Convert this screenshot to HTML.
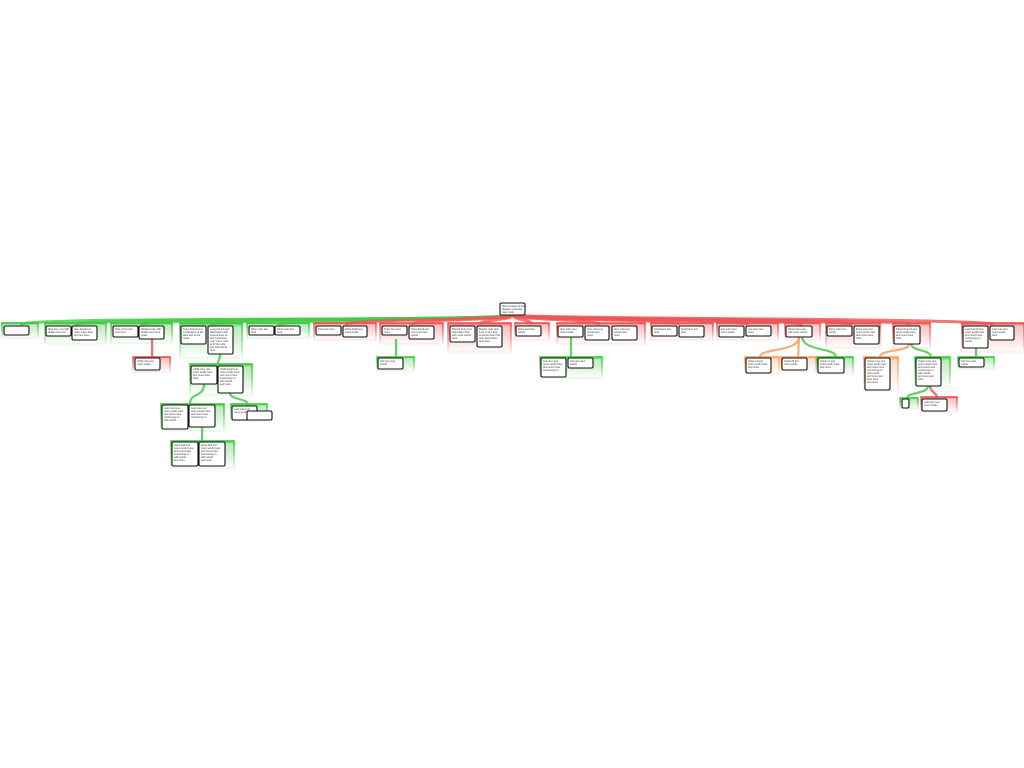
<!DOCTYPE html>
<html><head><meta charset="utf-8"><style>
html,body{margin:0;padding:0;background:#fff;width:1024px;height:768px;overflow:hidden}
svg{display:block}
text{font-family:"Liberation Sans",sans-serif;font-size:2.6px;fill:#333}
.n{fill:#fff;stroke:#111;stroke-width:1.1}
.gG{fill:url(#fG);stroke:url(#sG);stroke-width:1.6}
.gR{fill:url(#fR);stroke:url(#sR);stroke-width:1.6}
.gO{fill:url(#fO);stroke:url(#sO);stroke-width:1.6}
</style></head><body>
<svg width="1024" height="768" viewBox="0 0 1024 768" xmlns="http://www.w3.org/2000/svg">
<defs>
<linearGradient id="fG" x1="0" y1="0" x2="0" y2="1"><stop offset="0" stop-color="#3cc83c" stop-opacity=".9"/><stop offset=".12" stop-color="#3cc83c" stop-opacity=".35"/><stop offset="1" stop-color="#3cc83c" stop-opacity="0"/></linearGradient>
<linearGradient id="fR" x1="0" y1="0" x2="0" y2="1"><stop offset="0" stop-color="#ee5050" stop-opacity=".9"/><stop offset=".12" stop-color="#ee5050" stop-opacity=".35"/><stop offset="1" stop-color="#ee5050" stop-opacity="0"/></linearGradient>
<linearGradient id="fO" x1="0" y1="0" x2="0" y2="1"><stop offset="0" stop-color="#f6a060" stop-opacity=".9"/><stop offset=".12" stop-color="#f6a060" stop-opacity=".35"/><stop offset="1" stop-color="#f6a060" stop-opacity="0"/></linearGradient>
<linearGradient id="sG" x1="0" y1="0" x2="0" y2="1"><stop offset="0" stop-color="#3cc83c"/><stop offset="1" stop-color="#3cc83c" stop-opacity=".1"/></linearGradient>
<linearGradient id="sR" x1="0" y1="0" x2="0" y2="1"><stop offset="0" stop-color="#ee5050"/><stop offset="1" stop-color="#ee5050" stop-opacity=".1"/></linearGradient>
<linearGradient id="sO" x1="0" y1="0" x2="0" y2="1"><stop offset="0" stop-color="#f6a060"/><stop offset="1" stop-color="#f6a060" stop-opacity=".1"/></linearGradient>
</defs>

<g fill="none" stroke-width="3" stroke-opacity=".8">
<g stroke="#44cc44">
<path d="M512,315 C505,322 60,316 20,324"/>
<path d="M512,315 C505,321 110,317 75,324"/>
<path d="M512,315 C505,321 170,318 141,324"/>
<path d="M512,315 C505,320 240,318 211,324"/>
<path d="M512,315 C505,320 300,319 278,324"/>
</g>
<g stroke="#ee5555">
<path d="M512,315 C510,320 360,319 345,324"/>
<path d="M512,315 C512,320 420,319 411,324"/>
<path d="M512,315 C514,320 485,319 479,324"/>
<path d="M512,315 C514,320 530,319 532,324"/>
<path d="M512,315 C518,320 590,319 600,324"/>
<path d="M512,315 C520,320 665,319 680,324"/>
<path d="M512,315 C520,320 730,319 748,324"/>
<path d="M512,315 C520,320 785,319 802,324"/>
<path d="M512,315 C520,320 840,319 853,324"/>
<path d="M512,315 C520,320 900,319 911,324"/>
<path d="M512,315 C520,319 960,318 993,324"/>
</g>
</g>

<g>
<rect class="gG" x="2" y="323" width="36" height="15"/>
<rect class="gG" x="45" y="323" width="61" height="21"/>
<rect class="gG" x="111" y="323" width="61" height="20"/>
<rect class="gG" x="180" y="323" width="62" height="35"/>
<rect class="gG" x="247" y="323" width="62" height="15"/>
<rect class="gR" x="314" y="323" width="62" height="17"/>
<rect class="gR" x="380" y="323" width="63" height="21"/>
<rect class="gR" x="448" y="323" width="63" height="29"/>
<rect class="gR" x="515" y="323" width="34" height="17"/>
<rect class="gR" x="557" y="323" width="88" height="21"/>
<rect class="gR" x="651" y="323" width="62" height="17"/>
<rect class="gR" x="717" y="323" width="61" height="17"/>
<rect class="gR" x="785" y="323" width="35" height="17"/>
<rect class="gR" x="826" y="323" width="54" height="25"/>
<rect class="gR" x="893" y="323" width="37" height="25"/>
<rect class="gR" x="962" y="323" width="62" height="29"/>
<rect class="gR" x="133" y="357" width="37" height="15"/>
<rect class="gG" x="190" y="364" width="62" height="31"/>
<rect class="gG" x="161" y="404" width="63" height="27"/>
<rect class="gG" x="231" y="404" width="36" height="17"/>
<rect class="gG" x="171" y="441" width="63" height="27"/>
<rect class="gG" x="377" y="357" width="37" height="14"/>
<rect class="gG" x="540" y="357" width="62" height="21"/>
<rect class="gO" x="745" y="357" width="34" height="17"/>
<rect class="gO" x="781" y="357" width="35" height="15"/>
<rect class="gG" x="817" y="357" width="36" height="17"/>
<rect class="gO" x="864" y="357" width="34" height="34"/>
<rect class="gG" x="915" y="357" width="35" height="30"/>
<rect class="gG" x="900" y="398" width="18" height="11"/>
<rect class="gR" x="921" y="397" width="36" height="15"/>
<rect class="gG" x="958" y="357" width="36" height="12"/>
</g>

<g fill="none" stroke-width="2.2" stroke-opacity=".85">
<path d="M152,339 L152,357" stroke="#ee5555"/>
<path d="M220,354 C220,362 218,358 218,364" stroke="#44cc44"/>
<path d="M204,384 C204,398 190,392 190,404" stroke="#44cc44"/>
<path d="M230,393 C230,400 248,398 248,405" stroke="#44cc44"/>
<path d="M202,427 L202,441" stroke="#44cc44"/>
<path d="M396,339 L396,357" stroke="#44cc44"/>
<path d="M571,337 L571,357" stroke="#44cc44"/>
<path d="M799,337 C799,352 760,348 760,357" stroke="#f6a060"/>
<path d="M799,337 L798,357" stroke="#f6a060"/>
<path d="M802,337 C804,352 835,347 836,357" stroke="#44cc44"/>
<path d="M909,344 C909,352 880,349 880,357" stroke="#f6a060"/>
<path d="M911,344 C913,352 930,349 931,357" stroke="#44cc44"/>
<path d="M928,386 C928,394 908,392 907,398" stroke="#44cc44"/>
<path d="M930,386 C931,393 936,392 937,397" stroke="#ee5555"/>
<path d="M976,348 L976,357" stroke="#44cc44"/>
</g>

<g>
<rect class="n" x="500" y="303" width="25" height="12" rx="1.5"/>
<rect class="n" x="4" y="326" width="25" height="9" rx="1.5"/>
<rect class="n" x="46" y="326" width="25" height="10" rx="1.5"/>
<rect class="n" x="72" y="326" width="25" height="14" rx="1.5"/>
<rect class="n" x="113" y="326" width="25" height="11" rx="1.5"/>
<rect class="n" x="139" y="326" width="25" height="13" rx="1.5"/>
<rect class="n" x="181" y="326" width="25" height="18" rx="1.5"/>
<rect class="n" x="208" y="326" width="25" height="28" rx="1.5"/>
<rect class="n" x="249" y="326" width="25" height="9" rx="1.5"/>
<rect class="n" x="275" y="326" width="25" height="9" rx="1.5"/>
<rect class="n" x="316" y="326" width="25" height="9" rx="1.5"/>
<rect class="n" x="343" y="326" width="24" height="11" rx="1.5"/>
<rect class="n" x="382" y="326" width="25" height="9" rx="1.5"/>
<rect class="n" x="409" y="326" width="25" height="13" rx="1.5"/>
<rect class="n" x="450" y="326" width="25" height="16" rx="1.5"/>
<rect class="n" x="477" y="326" width="25" height="21" rx="1.5"/>
<rect class="n" x="516" y="326" width="25" height="10" rx="1.5"/>
<rect class="n" x="558" y="326" width="25" height="11" rx="1.5"/>
<rect class="n" x="585" y="326" width="24" height="14" rx="1.5"/>
<rect class="n" x="612" y="326" width="25" height="14" rx="1.5"/>
<rect class="n" x="652" y="326" width="25" height="10" rx="1.5"/>
<rect class="n" x="679" y="326" width="25" height="11" rx="1.5"/>
<rect class="n" x="719" y="326" width="25" height="11" rx="1.5"/>
<rect class="n" x="746" y="326" width="25" height="10" rx="1.5"/>
<rect class="n" x="786" y="326" width="26" height="11" rx="1.5"/>
<rect class="n" x="827" y="326" width="25" height="10" rx="1.5"/>
<rect class="n" x="854" y="326" width="25" height="18" rx="1.5"/>
<rect class="n" x="894" y="326" width="26" height="18" rx="1.5"/>
<rect class="n" x="963" y="326" width="25" height="22" rx="1.5"/>
<rect class="n" x="990" y="326" width="24" height="14" rx="1.5"/>
<rect class="n" x="135" y="358" width="25" height="12" rx="1.5"/>
<rect class="n" x="191" y="366" width="26" height="18" rx="1.5"/>
<rect class="n" x="218" y="366" width="25" height="27" rx="1.5"/>
<rect class="n" x="162" y="405" width="26" height="24" rx="1.5"/>
<rect class="n" x="189" y="405" width="26" height="22" rx="1.5"/>
<rect class="n" x="232" y="406" width="25" height="14" rx="1.5"/>
<rect class="n" x="247" y="411" width="25" height="9" rx="1.5"/>
<rect class="n" x="172" y="442" width="26" height="24" rx="1.5"/>
<rect class="n" x="199" y="442" width="26" height="24" rx="1.5"/>
<rect class="n" x="378" y="358" width="25" height="11" rx="1.5"/>
<rect class="n" x="541" y="358" width="25" height="19" rx="1.5"/>
<rect class="n" x="568" y="358" width="25" height="10" rx="1.5"/>
<rect class="n" x="746" y="358" width="25" height="15" rx="1.5"/>
<rect class="n" x="782" y="358" width="25" height="12" rx="1.5"/>
<rect class="n" x="818" y="358" width="26" height="15" rx="1.5"/>
<rect class="n" x="865" y="358" width="25" height="32" rx="1.5"/>
<rect class="n" x="916" y="358" width="25" height="28" rx="1.5"/>
<rect class="n" x="902" y="399" width="7" height="9" rx="1.5"/>
<rect class="n" x="922" y="399" width="25" height="12" rx="1.5"/>
<rect class="n" x="959" y="358" width="25" height="9" rx="1.5"/>
</g>

<g>
<text x="502" y="307">Root concept of the</text><text x="502" y="310">diagram overview</text><text x="502" y="313">main topic</text>
<text x="48" y="330">Idea item one with</text><text x="48" y="333">details here too</text>
<text x="74" y="330">Item detail text</text><text x="74" y="333">more notes here</text><text x="74" y="336">and text lines</text>
<text x="115" y="330">Note entry here</text><text x="115" y="333">short text</text>
<text x="141" y="330">Related note with</text><text x="141" y="333">details and more</text><text x="141" y="336">notes</text>
<text x="183" y="330">Topic branch text</text><text x="183" y="333">explanation of the</text><text x="183" y="336">idea with some</text><text x="183" y="339">notes</text>
<text x="210" y="330">Long branch text</text><text x="210" y="333">description with</text><text x="210" y="336">several lines of</text><text x="210" y="339">text continuing</text><text x="210" y="342">over many rows</text><text x="210" y="345">to fill the note</text><text x="210" y="348">box with words</text><text x="210" y="351">here</text>
<text x="251" y="330">Short note text</text><text x="251" y="333">here</text><text x="277" y="330">Short note text</text><text x="277" y="333">here</text>
<text x="318" y="330">Point item text</text><text x="345" y="330">Point detail text</text><text x="345" y="333">extra words</text>
<text x="384" y="330">Topic item text</text><text x="384" y="333">more</text><text x="411" y="330">Topic detail text</text><text x="411" y="333">more text here</text><text x="411" y="336">words</text>
<text x="452" y="330">Branch entry text</text><text x="452" y="333">description line</text><text x="452" y="336">with more words</text><text x="452" y="339">here</text>
<text x="479" y="330">Branch note with</text><text x="479" y="333">lines of text that</text><text x="479" y="336">continue down the</text><text x="479" y="339">note with words</text><text x="479" y="342">and more</text>
<text x="518" y="330">Entry text here</text><text x="518" y="333">words</text>
<text x="560" y="330">Item entry text</text><text x="560" y="333">more words</text><text x="587" y="330">Item note text</text><text x="587" y="333">words here</text><text x="587" y="336">more</text><text x="614" y="330">Item note text</text><text x="614" y="333">words here</text><text x="614" y="336">more</text>
<text x="654" y="330">Small item text</text><text x="654" y="333">here</text><text x="681" y="330">Small item text</text><text x="681" y="333">here</text>
<text x="721" y="330">List entry text</text><text x="721" y="333">more words</text><text x="748" y="330">List entry text</text><text x="748" y="333">more</text>
<text x="788" y="330">Parent item text</text><text x="788" y="333">with more words</text>
<text x="829" y="330">Entry note text</text><text x="829" y="333">words</text>
<text x="856" y="330">Entry note text</text><text x="856" y="333">more words here</text><text x="856" y="336">and more lines</text><text x="856" y="339">here</text>
<text x="896" y="330">Parent branch text</text><text x="896" y="333">more words here</text><text x="896" y="336">and more lines</text><text x="896" y="339">here</text>
<text x="965" y="330">Last branch text</text><text x="965" y="333">more words here</text><text x="965" y="336">and more lines</text><text x="965" y="339">continuing on</text><text x="965" y="342">words</text>
<text x="992" y="330">Last note text</text><text x="992" y="333">more words</text><text x="992" y="336">here</text>
<text x="137" y="362">Child note text</text><text x="137" y="365">more words</text>
<text x="193" y="370">Child entry text</text><text x="193" y="373">more words here</text><text x="193" y="376">and more lines</text><text x="193" y="379">here</text>
<text x="220" y="370">Child detail text</text><text x="220" y="373">more words here</text><text x="220" y="376">and more lines</text><text x="220" y="379">continuing on</text><text x="220" y="382">with words</text><text x="220" y="385">and more</text>
<text x="164" y="409">Leaf note text</text><text x="164" y="412">more words here</text><text x="164" y="415">and more lines</text><text x="164" y="418">continuing on</text><text x="164" y="421">with words</text>
<text x="191" y="409">Leaf note text</text><text x="191" y="412">more words here</text><text x="191" y="415">and more lines</text><text x="191" y="418">continuing on</text>
<text x="234" y="410">Leaf note text</text><text x="234" y="413">more words</text>
<text x="174" y="446">Deep leaf text</text><text x="174" y="449">more words here</text><text x="174" y="452">and more lines</text><text x="174" y="455">continuing on</text><text x="174" y="458">with words</text><text x="174" y="461">and more</text>
<text x="201" y="446">Deep leaf text</text><text x="201" y="449">more words here</text><text x="201" y="452">and more lines</text><text x="201" y="455">continuing on</text><text x="201" y="458">with words</text><text x="201" y="461">and more</text>
<text x="380" y="362">Sub item text</text><text x="380" y="365">words</text>
<text x="543" y="362">Sub item text</text><text x="543" y="365">more words here</text><text x="543" y="368">and more lines</text><text x="543" y="371">continuing on</text>
<text x="570" y="362">Sub item text</text><text x="570" y="365">words</text>
<text x="748" y="362">Option A text</text><text x="748" y="365">more words here</text><text x="748" y="368">and more</text>
<text x="784" y="362">Option B text</text><text x="784" y="365">more words</text>
<text x="820" y="362">Option C text</text><text x="820" y="365">more words here</text><text x="820" y="368">and more</text>
<text x="867" y="362">Option note text</text><text x="867" y="365">more words here</text><text x="867" y="368">and more lines</text><text x="867" y="371">continuing on</text><text x="867" y="374">with words</text><text x="867" y="377">and more text</text><text x="867" y="380">lines here</text><text x="867" y="383">and more</text>
<text x="918" y="362">Option note text</text><text x="918" y="365">more words here</text><text x="918" y="368">and more lines</text><text x="918" y="371">continuing on</text><text x="918" y="374">with words</text><text x="918" y="377">and more text</text><text x="918" y="380">lines</text>
<text x="924" y="403">Leaf item text</text><text x="924" y="406">more words</text>
<text x="961" y="362">Sub item text</text><text x="961" y="365">words</text>
</g>
</svg>
</body></html>
